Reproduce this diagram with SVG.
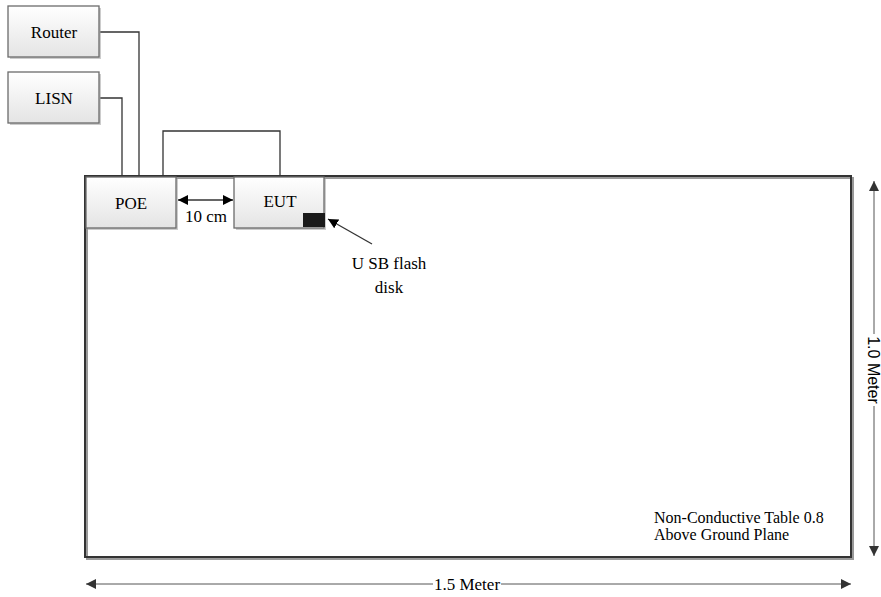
<svg xmlns="http://www.w3.org/2000/svg" width="881" height="597" viewBox="0 0 881 597">
<defs>
<linearGradient id="g" x1="0" y1="0" x2="0" y2="1"><stop offset="0" stop-color="#ffffff"/><stop offset="1" stop-color="#e4e4e4"/></linearGradient>
<marker id="ah" viewBox="0 0 10 10" refX="10" refY="5" markerWidth="10" markerHeight="10" markerUnits="userSpaceOnUse" orient="auto-start-reverse"><path d="M0,0 L10,5 L0,10 z" fill="#000"/></marker>
<marker id="ah2" viewBox="0 0 10 10" refX="10" refY="5" markerWidth="12" markerHeight="10" markerUnits="userSpaceOnUse" orient="auto-start-reverse"><path d="M0,0 L10,5 L0,10 z" fill="#333"/></marker>
</defs>
<style>
.box{fill:url(#g);stroke:#6b6b6b;stroke-width:1.3}
.shadow{fill:#9a9a9a;opacity:0.5}
.t{font-family:"Liberation Serif",serif;font-size:17px;fill:#000}
.ts{font-family:"Liberation Serif",serif;font-size:16px;fill:#000}
.tv{font-family:"Liberation Sans",sans-serif;font-size:16px;fill:#000}
.line{fill:none;stroke:#333;stroke-width:1.3}
.dim{fill:none;stroke:#555;stroke-width:1}
</style>
<rect width="881" height="597" fill="#fff"/>
<g id="table">
<rect x="87" y="178" width="766" height="381" fill="none" stroke="#999" stroke-width="2"/>
<rect x="85" y="176" width="766" height="381" fill="none" stroke="#333" stroke-width="2"/>
<text class="ts" x="654" y="523">Non-Conductive Table 0.8</text>
<text class="ts" x="654" y="540">Above Ground Plane</text>
</g>
<g id="connectors">
<polyline class="line" points="100,32 139,32 139,177"/>
<polyline class="line" points="100,98 122,98 122,177"/>
<polyline class="line" points="163,177 163,131 280,131 280,177"/>
<line class="line" x1="178" y1="200" x2="233" y2="200" marker-start="url(#ah)" marker-end="url(#ah)" stroke="#000" stroke-width="1.5"/>
<line class="line" x1="372" y1="244" x2="328" y2="219" marker-end="url(#ah)"/>
<line class="dim" x1="874" y1="181" x2="874" y2="556" marker-start="url(#ah2)" marker-end="url(#ah2)"/>
<line class="dim" x1="86" y1="584" x2="851" y2="584" marker-start="url(#ah2)" marker-end="url(#ah2)"/>
</g>
<g id="router">
<rect x="10" y="8" width="91" height="51" class="shadow"/>
<rect x="8" y="6" width="91" height="51" class="box"/>
<text class="t" x="54" y="38" text-anchor="middle">Router</text>
</g>
<g id="lisn">
<rect x="10" y="74" width="91" height="51" class="shadow"/>
<rect x="8" y="72" width="91" height="51" class="box"/>
<text class="t" x="54" y="104" text-anchor="middle">LISN</text>
</g>
<g id="poe">
<rect x="88" y="179" width="90" height="51" class="shadow"/>
<rect x="86" y="177" width="90" height="51" class="box"/>
<text class="t" x="131" y="209" text-anchor="middle">POE</text>
</g>
<g id="eut">
<rect x="236" y="179" width="90" height="51" class="shadow"/>
<rect x="234" y="177" width="90" height="51" class="box"/>
<text class="t" x="280" y="207" text-anchor="middle">EUT</text>
<rect x="303" y="213" width="22" height="14" fill="#1a1a1a"/>
</g>
<g id="labels">
<rect x="180" y="207" width="52" height="18" fill="#fff"/>
<text class="t" x="206" y="222" text-anchor="middle">10 cm</text>
<text class="t" x="389" y="269" text-anchor="middle">U SB flash</text>
<text class="t" x="389" y="293" text-anchor="middle">disk</text>
<rect x="864" y="334" width="20" height="72" fill="#fff"/>
<text class="tv" transform="translate(868,370) rotate(90)" text-anchor="middle">1.0 Meter</text>
<rect x="433" y="576" width="68" height="16" fill="#fff"/>
<text class="t" x="467" y="590" text-anchor="middle">1.5 Meter</text>
</g>
</svg>
